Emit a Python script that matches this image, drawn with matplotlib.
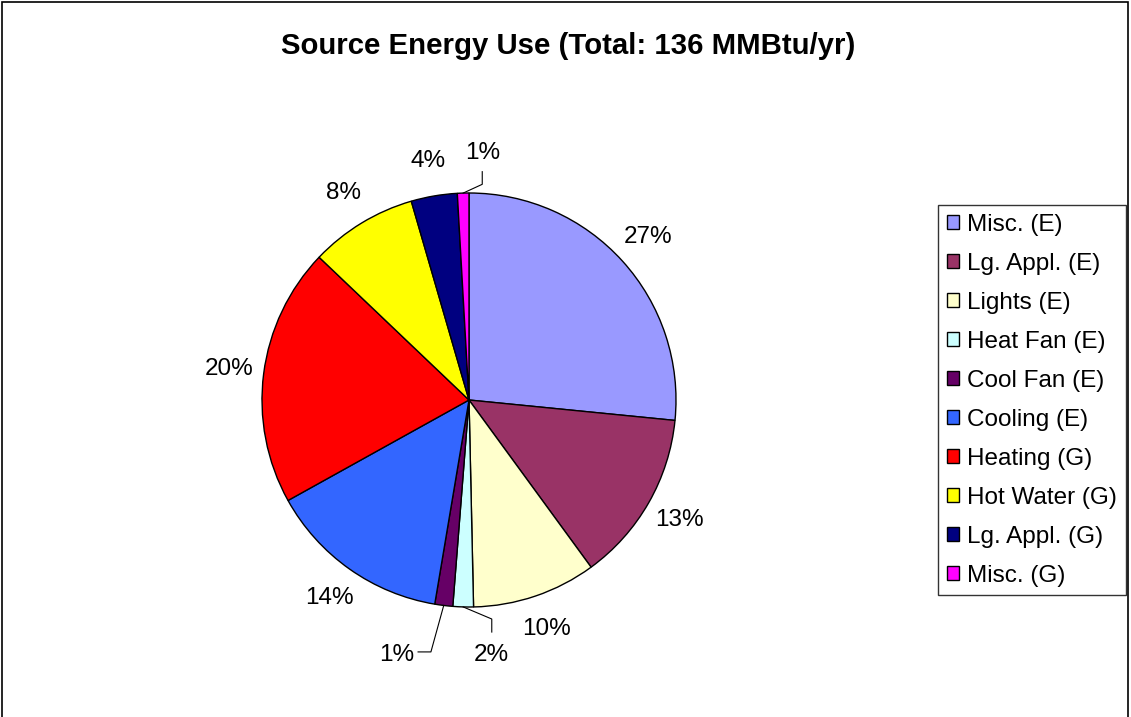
import numpy as np
import matplotlib.pyplot as plt
from matplotlib.patches import Rectangle

plt.rcParams['font.family'] = ['Liberation Sans', 'DejaVu Sans']

categories = ['Misc. (E)', 'Lg. Appl. (E)', 'Lights (E)', 'Heat Fan (E)',
              'Cool Fan (E)', 'Cooling (E)', 'Heating (G)', 'Hot Water (G)',
              'Lg. Appl. (G)', 'Misc. (G)']
shares = [26.6, 13.4, 9.7, 1.6, 1.4, 14.3, 20.2, 8.4, 3.6, 0.9]
pct_labels = ['27%', '13%', '10%', '2%', '1%', '14%', '20%', '8%', '4%', '1%']
colors = ['#9999FF', '#993366', '#FFFFCC', '#CCFFFF', '#660066',
          '#3366FF', '#FF0000', '#FFFF00', '#000080', '#FF00FF']

W, H = 1131, 717
fig = plt.figure(figsize=(W / 100, H / 100), dpi=100)

# outer chart border
fig.add_artist(Rectangle((2 / W, -0.01), (W - 5) / W, 1 - 2 / H + 0.01,
                         transform=fig.transFigure, fill=False,
                         edgecolor='black', linewidth=1.2))

fig.text(568 / W, 1 - 46 / H, 'Source Energy Use (Total: 136 MMBtu/yr)',
         ha='center', va='center', fontsize=21.2, fontweight='bold')

cx, cy, r = 469, 400, 207
ax = fig.add_axes([(cx - r) / W, (H - cy - r) / H, 2 * r / W, 2 * r / H])
wedges, _ = ax.pie(shares, colors=colors, startangle=90, counterclock=False,
                   wedgeprops=dict(edgecolor='black', linewidth=1.0))
ax.set_xlim(-1, 1)
ax.set_ylim(-1, 1)
ax.set_aspect('equal')
ax.axis('off')

# label placement: small slices get leader lines
leader = {3: ((0.106, -1.232), [(0.11, -1.058), (0.11, -1.121)]),
          4: ((-0.348, -1.232), [(-0.184, -1.217), (-0.246, -1.217)]),
          9: ((0.068, 1.193), [(0.064, 1.042), (0.064, 1.103)])}
for i, w in enumerate(wedges):
    mid = np.deg2rad((w.theta1 + w.theta2) / 2)
    if i in leader:
        (lx, ly), pts = leader[i]
        ex, ey = np.cos(mid), np.sin(mid)
        xs = [ex] + [p[0] for p in pts]
        ys = [ey] + [p[1] for p in pts]
        ax.plot(xs, ys, color='black', linewidth=0.8, clip_on=False)
        ax.text(lx, ly, pct_labels[i], ha='center', va='center', fontsize=17.5)
    else:
        d = 1.17
        ax.text(d * np.cos(mid), d * np.sin(mid), pct_labels[i],
                ha='center', va='center', fontsize=17.5)

leg = fig.legend(wedges, categories, loc='upper left',
                 bbox_to_anchor=(938 / W, 1 - 205 / H), fontsize=17.5,
                 frameon=True, fancybox=False, edgecolor='black',
                 handlelength=0.5, handleheight=0.5, handletextpad=0.35,
                 labelspacing=0.7, borderpad=0.35, borderaxespad=0)
leg.get_frame().set_linewidth(1.0)

fig.savefig('out.png', dpi=100)
